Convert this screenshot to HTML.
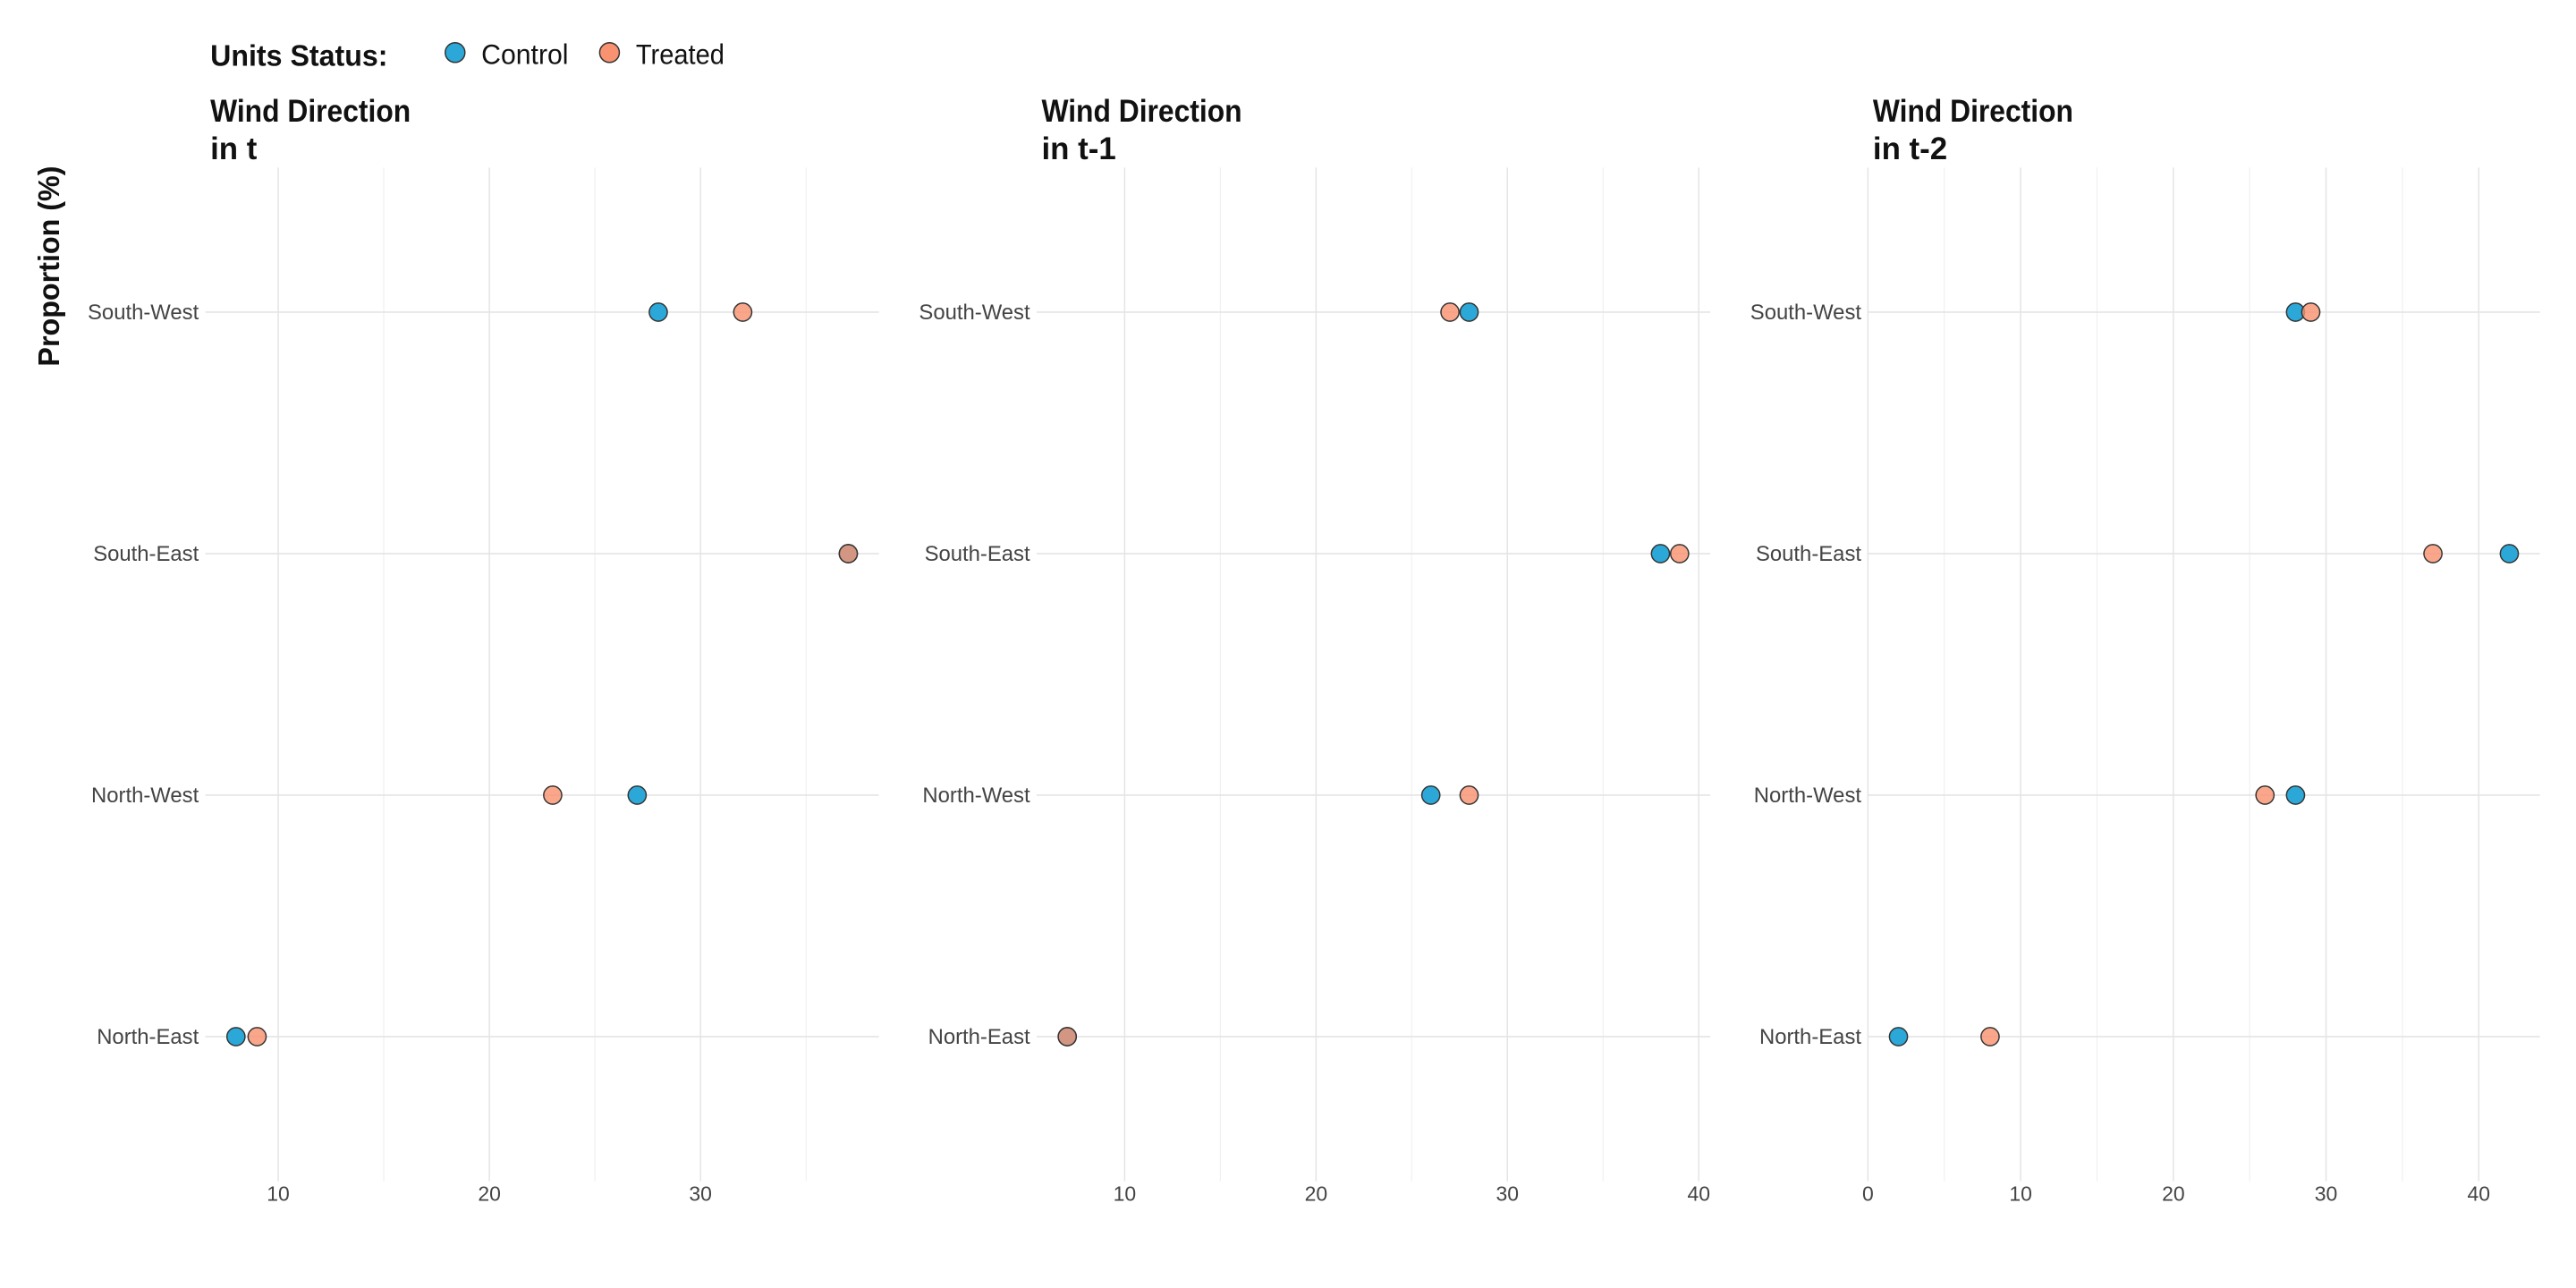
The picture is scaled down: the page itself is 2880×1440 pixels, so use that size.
<!DOCTYPE html>
<html><head><meta charset="utf-8"><style>
html,body{margin:0;padding:0;background:#fff;}
svg{display:block;font-family:"Liberation Sans",sans-serif;}
</style></head>
<body>
<svg id="chart" xmlns="http://www.w3.org/2000/svg" width="2880" height="1440" viewBox="0 0 1568 784">
<rect width="1568" height="784" fill="#fff"/>
<g>
<text x="128" y="40" font-size="18" font-weight="bold" fill="#111" textLength="108" lengthAdjust="spacingAndGlyphs">Units Status:</text>
<g><circle cx="277" cy="32" r="6" fill="#2BA8D8" stroke="#333" stroke-width="0.8"/><text x="293" y="39" font-size="17" fill="#111" textLength="53" lengthAdjust="spacingAndGlyphs">Control</text></g>
<g><circle cx="371" cy="32" r="6" fill="#F89270" stroke="#333" stroke-width="0.8"/><text x="387" y="39" font-size="17" fill="#111" textLength="54" lengthAdjust="spacingAndGlyphs">Treated</text></g>
</g>
<text transform="translate(36,162) rotate(-90)" text-anchor="middle" font-size="18" font-weight="bold" fill="#111" textLength="122" lengthAdjust="spacingAndGlyphs">Proportion (%)</text>
<g id="panels"></g>
</svg>
<script>
const categories = ["South-West","South-East","North-West","North-East"];
const panelTitles = ["in t","in t-1","in t-2"];
const controlT0 = [28,37,27,8];
const treatedT0 = [32,37,23,9];
const controlT1 = [28,38,26,7];
const treatedT1 = [27,39,28,7];
const controlT2 = [28,42,28,2];
const treatedT2 = [29,37,26,8];
const ticksT0 = [10,20,30];
const ticksT1 = [10,20,30,40];
const ticksT2 = [0,10,20,30,40];

const NS="http://www.w3.org/2000/svg";
const root=document.getElementById('panels');
const panels=[
 {left:125,right:535,ctrl:controlT0,tr:treatedT0,ticks:ticksT0,title:panelTitles[0],titleX:128},
 {left:631,right:1041,ctrl:controlT1,tr:treatedT1,ticks:ticksT1,title:panelTitles[1],titleX:634},
 {left:1137,right:1546,ctrl:controlT2,tr:treatedT2,ticks:ticksT2,title:panelTitles[2],titleX:1140}
];
const plotTop=102,plotBottom=719;
const rowY=i=>190+i*147;
function mk(tag,attrs,parent){const e=document.createElementNS(NS,tag);for(const k in attrs)e.setAttribute(k,attrs[k]);parent.appendChild(e);return e;}
panels.forEach((p,pi)=>{
  const g=mk('g',{},root);
  
  
  const all=p.ctrl.concat(p.tr);
  const mn=Math.min(...all),mx=Math.max(...all),ex=(mx-mn)*0.05;
  const d0=mn-ex,d1=mx+ex;
  const x=v=>p.left+(v-d0)/(d1-d0)*(p.right-p.left);
  const step=p.ticks[1]-p.ticks[0];
  for(let v=Math.ceil(d0/(step/2))*(step/2);v<=d1;v+=step/2){
    const major=Math.abs(v%step)<1e-6;
    const l=mk('line',{x1:x(v),x2:x(v),y1:plotTop,y2:plotBottom,stroke:major?'#e4e4e4':'#efefef','stroke-width':major?0.8:0.6},g);
    
    
  }
  p.ticks.forEach(t=>{
    const tx=mk('text',{x:x(t),y:731,'text-anchor':'middle','font-size':12.5,fill:'#444'},g);
    
    
    tx.textContent=t;
  });
  categories.forEach((c,i)=>{
    const l=mk('line',{x1:p.left,x2:p.right,y1:rowY(i),y2:rowY(i),stroke:'#e4e4e4','stroke-width':0.9},g);
    
    
    const tx=mk('text',{x:p.left-4,y:rowY(i)+4.5,'text-anchor':'end','font-size':13,fill:'#444'},g);
    
    
    tx.textContent=c;
  });
  const t1=mk('text',{x:p.titleX,y:74,'font-size':19,'font-weight':'bold',fill:'#111',textLength:122,lengthAdjust:'spacingAndGlyphs'},g);
  
  
  t1.textContent='Wind Direction';
  const t2=mk('text',{x:p.titleX,y:97,'font-size':19,'font-weight':'bold',fill:'#111'},g);
  
  
  t2.textContent=p.title;
  categories.forEach((c,i)=>{
    const a=mk('circle',{cx:x(p.ctrl[i]),cy:rowY(i),r:5.5,fill:'#2BA8D8',stroke:'#333','stroke-width':0.8},g);
    
    
    const b=mk('circle',{cx:x(p.tr[i]),cy:rowY(i),r:5.5,fill:'#F89270','fill-opacity':0.82,stroke:'#333','stroke-width':0.8},g);
    
    
  });
});
</script>
</body></html>
